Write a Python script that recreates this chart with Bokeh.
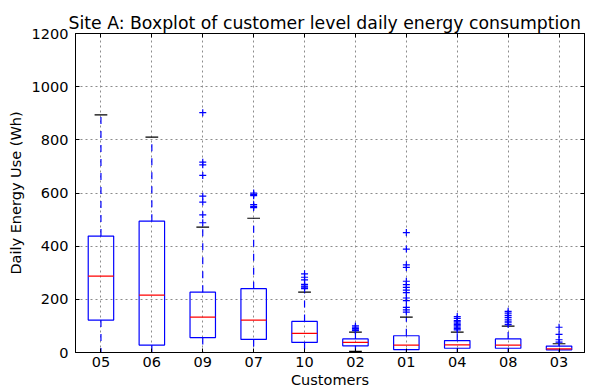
from bokeh.plotting import figure
from bokeh.models import Range1d, FixedTicker, LinearAxis, ColumnDataSource
from bokeh.embed import file_html
from bokeh.resources import INLINE

customers = ["05", "06", "09", "07", "10", "02", "01", "04", "08", "03"]
whisker_lo = [0, 0, 0, 0, 0, 4, 0, 0, 0, 0]
q1 = [122, 28, 56, 49, 38, 25, 11, 16, 16, 10]
median = [287, 216, 133, 122, 72, 38, 28, 29, 28, 14]
q3 = [438, 494, 227, 240, 117, 51, 63, 45, 51, 24]
whisker_hi = [894, 810, 472, 505, 227, 77, 133, 77, 99, 33]
outliers = [
    [],
    [],
    [902, 716, 706, 666, 588, 566, 518, 488],
    [600, 595, 590, 556, 550, 545],
    [296, 283, 273, 256, 250, 246, 240],
    [100, 95, 90, 85, 82],
    [451, 389, 330, 320, 268, 255, 245, 235, 225, 205, 195, 170, 160, 152],
    [135, 128, 120, 115, 110, 105, 100, 95, 90, 85],
    [155, 148, 140, 132, 125, 118, 112, 105],
    [95, 68, 48, 39],
]
y_ticks = [0, 200, 400, 600, 800, 1000, 1200]

FONT = "DejaVu Sans"
BLUE = "#0000ff"

pos = list(range(1, len(customers) + 1))
src = ColumnDataSource(dict(
    x=pos,
    left=[x - 0.25 for x in pos], right=[x + 0.25 for x in pos],
    cl=[x - 0.125 for x in pos], cr=[x + 0.125 for x in pos],
    lo=whisker_lo, q1=q1, med=median, q3=q3, hi=whisker_hi,
))
ox, oy = [], []
for x, vals in zip(pos, outliers):
    for v in vals:
        ox.append(x)
        oy.append(v)

p = figure(width=595, height=392, output_backend="svg", toolbar_location=None,
           x_range=Range1d(0.5, len(customers) + 0.5), y_range=Range1d(0, 1200),
           min_border_left=75, min_border_right=11, min_border_top=33, min_border_bottom=40)
p.title.text = "Site A: Boxplot of customer level daily energy consumption"
p.title.text_font = FONT
p.title.text_font_size = "17.3px"
p.title.text_font_style = "normal"
p.title.align = "left"
p.title.offset = -7
p.title.text_color = "black"
p.title.standoff = 2

p.outline_line_color = "black"
p.outline_line_width = 1
p.background_fill_color = "white"
p.border_fill_color = "white"

for ax in (p.xaxis[0], p.yaxis[0]):
    ax.major_tick_in = 4
    ax.major_tick_out = 0
    ax.minor_tick_line_color = None
    ax.axis_line_color = "black"
    ax.major_tick_line_color = "black"
    ax.major_label_text_font = FONT
    ax.major_label_text_font_size = "14.5px"
    ax.major_label_text_color = "black"
    ax.axis_label_text_font = FONT
    ax.axis_label_text_font_size = "14.5px"
    ax.axis_label_text_font_style = "normal"
    ax.axis_label_text_color = "black"

p.xaxis[0].ticker = FixedTicker(ticks=pos)
p.xaxis[0].major_label_overrides = {x: c for x, c in zip(pos, customers)}
p.xaxis[0].axis_label = "Customers"
p.xaxis[0].major_label_standoff = 4
p.xaxis[0].axis_label_standoff = 2
p.yaxis[0].ticker = FixedTicker(ticks=y_ticks)
p.yaxis[0].axis_label = "Daily Energy Use (Wh)"
p.yaxis[0].major_label_standoff = 7
p.yaxis[0].axis_label_standoff = 5

top = LinearAxis(ticker=FixedTicker(ticks=pos), major_tick_in=4, major_tick_out=0,
                 minor_tick_line_color=None, major_label_text_font_size="1px",
                 major_label_text_color=None, major_label_standoff=0,
                 axis_line_color="black")
right = LinearAxis(ticker=FixedTicker(ticks=y_ticks), major_tick_in=4, major_tick_out=0,
                   minor_tick_line_color=None, major_label_text_font_size="1px",
                   major_label_text_color=None, major_label_standoff=0,
                   axis_line_color="black")
p.add_layout(top, "above")
p.add_layout(right, "right")

p.xgrid.ticker = FixedTicker(ticks=pos)
p.ygrid.ticker = FixedTicker(ticks=y_ticks)
for g in (p.xgrid[0], p.ygrid[0]):
    g.grid_line_color = "#8c8c8c"
    g.grid_line_dash = "2 3"
    g.grid_line_width = 1

# whiskers
p.segment(x0="x", y0="q1", x1="x", y1="lo", source=src, line_color=BLUE,
          line_dash="7 7", line_width=1.2)
p.segment(x0="x", y0="q3", x1="x", y1="hi", source=src, line_color=BLUE,
          line_dash="7 7", line_width=1.2)
# caps
p.segment(x0="cl", y0="lo", x1="cr", y1="lo", source=src, line_color="black", line_width=1.2)
p.segment(x0="cl", y0="hi", x1="cr", y1="hi", source=src, line_color="black", line_width=1.2)
# boxes
p.quad(left="left", right="right", bottom="q1", top="q3", source=src,
       fill_color=None, line_color=BLUE, line_width=1.2)
# medians
p.segment(x0="left", y0="med", x1="right", y1="med", source=src, line_color="red", line_width=1.2)
# fliers
p.scatter(ox, oy, marker="cross", size=7, line_color=BLUE, line_width=1.2)

open("out.html", "w").write(file_html(p, INLINE))
